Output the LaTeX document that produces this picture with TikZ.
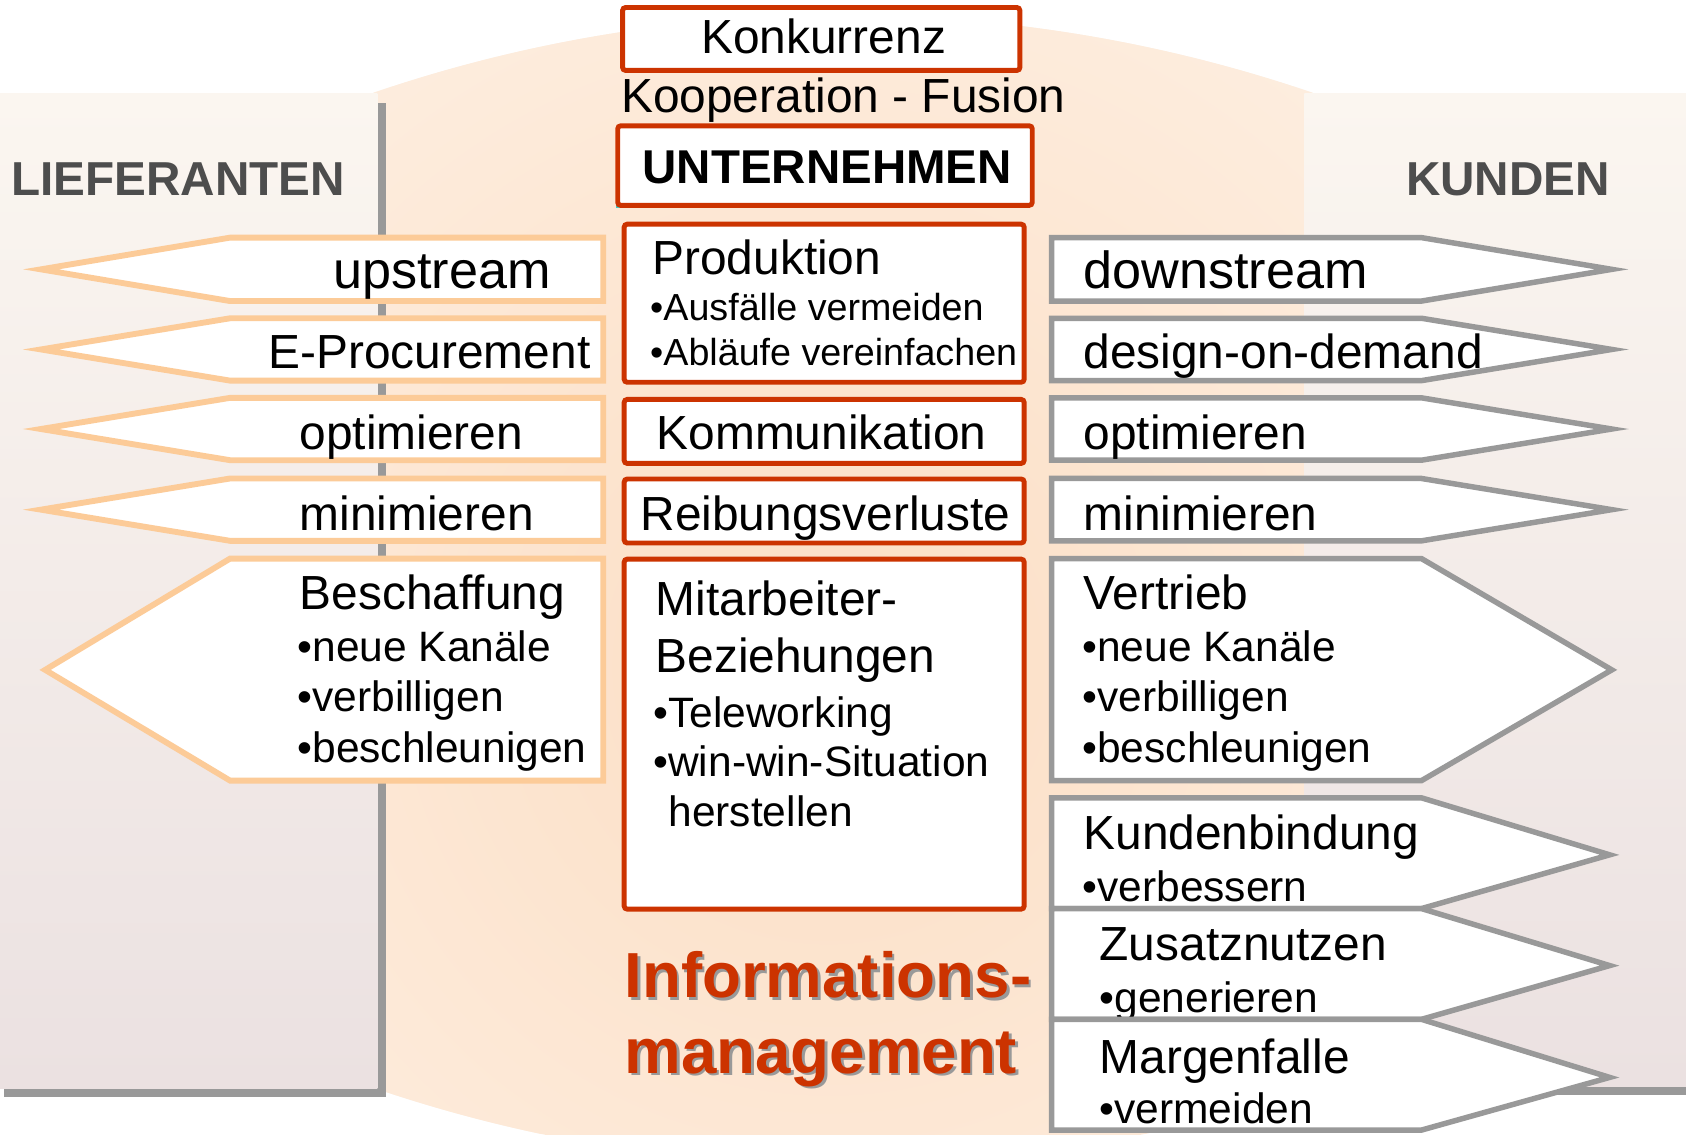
\documentclass[tikz,border=0pt]{standalone}
\usepackage{fontspec}
\setmainfont{Liberation Sans}
\usepackage{graphicx}
\definecolor{redc}{HTML}{CC3300}
\definecolor{peachline}{HTML}{FCCB98}
\definecolor{grayline}{HTML}{999999}
\definecolor{headgray}{HTML}{4D4D4D}
\definecolor{paneltop}{HTML}{FBF6F0}
\definecolor{panelbot}{HTML}{EBE1E1}
\definecolor{lensout}{HTML}{FDEEE0}
\definecolor{lensin}{HTML}{FCDEC4}
\definecolor{tealc}{HTML}{40C8C8}
\newcommand{\fsz}[1]{\fontsize{#1}{#1}\selectfont}
\begin{document}
\begin{tikzpicture}[x=0.01cm,y=-0.01cm,
  redbox/.style={draw=redc,line width=1.3pt,fill=white,rounded corners=0.8pt},
  larrow/.style={draw=peachline,line width=1.55pt,fill=white,miter limit=12},
  rarrow/.style={draw=grayline,line width=1.45pt,fill=white,miter limit=12},
  lbl/.style={anchor=base west,inner sep=0pt,font=\fsz{12.66pt}},
  big/.style={lbl,font=\fsz{13.8pt}},
  bul/.style={lbl,font=\fsz{11.24pt}},
  sbul/.style={lbl,font=\fsz{9.96pt}},
  head/.style={anchor=base west,inner sep=0pt,font=\bfseries\fsz{12.6pt},text=headgray},
  info/.style={anchor=base west,inner sep=0pt,font=\bfseries\fsz{16.84pt}},
]
\useasboundingbox (0,0) rectangle (1568,1055);
\fill[white] (0,0) rectangle (1568,1055);
% lens background
\begin{scope}
\clip (784,1365) circle (13.5cm);
\clip (784,-267) circle (13.5cm);
\fill[lensout] (0,0) rectangle (1568,1055);
\shade[inner color=lensin,outer color=lensout] (770,620) circle (7.5cm);
\end{scope}
% side panels
\fill[grayline] (4,96) rectangle (359,1020);
\shade[top color=paneltop,bottom color=panelbot] (0,87) rectangle (351,1012);
\fill[grayline] (1221,96) rectangle (1580,1018);
\shade[top color=paneltop,bottom color=panelbot] (1213,87) rectangle (1570,1010);
% headings
\node[head] (lief) at (10,182) {LIEFERANTEN};
\node[head] (kund) at (1307,182) {KUNDEN};
% centre column
\draw[redbox] (579,7) rectangle (948.5,65.5);
\node[lbl,anchor=base] (konk) at (766,50) {Konkurrenz};
\node[lbl] (koop) at (577,105) {Kooperation - Fusion};
\fill[tealc] (572.5,119) rectangle (958,193.5);
\draw[redbox] (574.5,117) rectangle (960,191);
\node[lbl,font=\bfseries\fsz{12.55pt}] (unt) at (597,171) {UNTERNEHMEN};
\draw[redbox] (580.5,208.5) rectangle (952.5,355.5);
\node[lbl] (prod) at (606,255) {Produktion};
\node[sbul] (prod1) at (604,298) {•Ausfälle vermeiden};
\node[sbul] (prod2) at (604,340) {•Abläufe vereinfachen};
\draw[redbox] (580.5,371.5) rectangle (952.5,431);
\node[lbl] (komm) at (610,418) {Kommunikation};
\draw[redbox] (580.5,445.5) rectangle (952.5,505);
\node[lbl] (reib) at (595,493) {Reibungsverluste};
\draw[redbox] (580.5,520) rectangle (952.5,845.5);
\node[lbl] (mit1) at (609,572) {Mitarbeiter-};
\node[lbl] (mit2) at (609,625) {Beziehungen};
\node[bul] (mit3) at (607,677) {•Teleworking};
\node[bul] (mit4) at (607,722) {•win-win-Situation};
\node[bul] (mit5) at (621,769) {herstellen};
\node[info,text=grayline] (infoS) at (582.5,930.5) {Informations-};
\node[info,text=redc] (info) at (580,928) {Informations-};
\node[info,text=grayline] (manS) at (582.5,1000.5) {management};
\node[info,text=redc] (man) at (580,998) {management};
% left arrows
\draw[larrow] (561,221) -- (214,221) -- (38,250.5) -- (214,280) -- (561,280) -- cycle;
\node[big] (up) at (309,268) {upstream};
\draw[larrow] (561,296) -- (214,296) -- (38,325) -- (214,354) -- (561,354) -- cycle;
\node[lbl] (eproc) at (249,343) {E-Procurement};
\draw[larrow] (561,370) -- (214,370) -- (38,399) -- (214,428) -- (561,428) -- cycle;
\node[lbl] (lopt) at (278,418) {optimieren};
\draw[larrow] (561,445) -- (214,445) -- (38,474) -- (214,503) -- (561,503) -- cycle;
\node[lbl] (lmin) at (278,493) {minimieren};
\draw[larrow] (561,519.5) -- (214,519.5) -- (42,623) -- (214,726) -- (561,726) -- cycle;
\node[lbl] (besch) at (278,567) {Beschaffung};
\node[bul] (besch1) at (276,615) {•neue Kanäle};
\node[bul] (besch2) at (276,662) {•verbilligen};
\node[bul] (besch3) at (276,709) {•beschleunigen};
% right arrows
\draw[rarrow] (978,221) -- (1322,221) -- (1499,250.5) -- (1322,280) -- (978,280) -- cycle;
\node[big] (down) at (1007,268) {downstream};
\draw[rarrow] (978,296) -- (1322,296) -- (1499,325) -- (1322,354) -- (978,354) -- cycle;
\node[lbl] (dod) at (1007,343) {design-on-demand};
\draw[rarrow] (978,370) -- (1322,370) -- (1499,399) -- (1322,428) -- (978,428) -- cycle;
\node[lbl] (ropt) at (1007,418) {optimieren};
\draw[rarrow] (978,445) -- (1322,445) -- (1499,474) -- (1322,503) -- (978,503) -- cycle;
\node[lbl] (rmin) at (1007,493) {minimieren};
\draw[rarrow] (978,519.5) -- (1322,519.5) -- (1499,623) -- (1322,726) -- (978,726) -- cycle;
\node[lbl] (vert) at (1007,567) {Vertrieb};
\node[bul] (vert1) at (1006,615) {•neue Kanäle};
\node[bul] (vert2) at (1006,662) {•verbilligen};
\node[bul] (vert3) at (1006,709) {•beschleunigen};
\draw[rarrow] (978,742) -- (1322,742) -- (1497,795) -- (1322,845) -- (978,845) -- cycle;
\node[lbl] (kb) at (1007,790) {Kundenbindung};
\node[bul] (kb1) at (1006,838) {•verbessern};
\draw[rarrow] (978,845) -- (1322,845) -- (1497,898) -- (1322,948) -- (978,948) -- cycle;
\node[lbl] (zn) at (1022,893) {Zusatznutzen};
\node[bul] (zn1) at (1022,942) {•generieren};
\draw[rarrow] (978,948) -- (1322,948) -- (1497,1002) -- (1322,1051) -- (978,1051) -- cycle;
\node[lbl] (mf) at (1022,998) {Margenfalle};
\node[bul] (mf1) at (1022,1045) {•vermeiden};
\end{tikzpicture}
\end{document}
